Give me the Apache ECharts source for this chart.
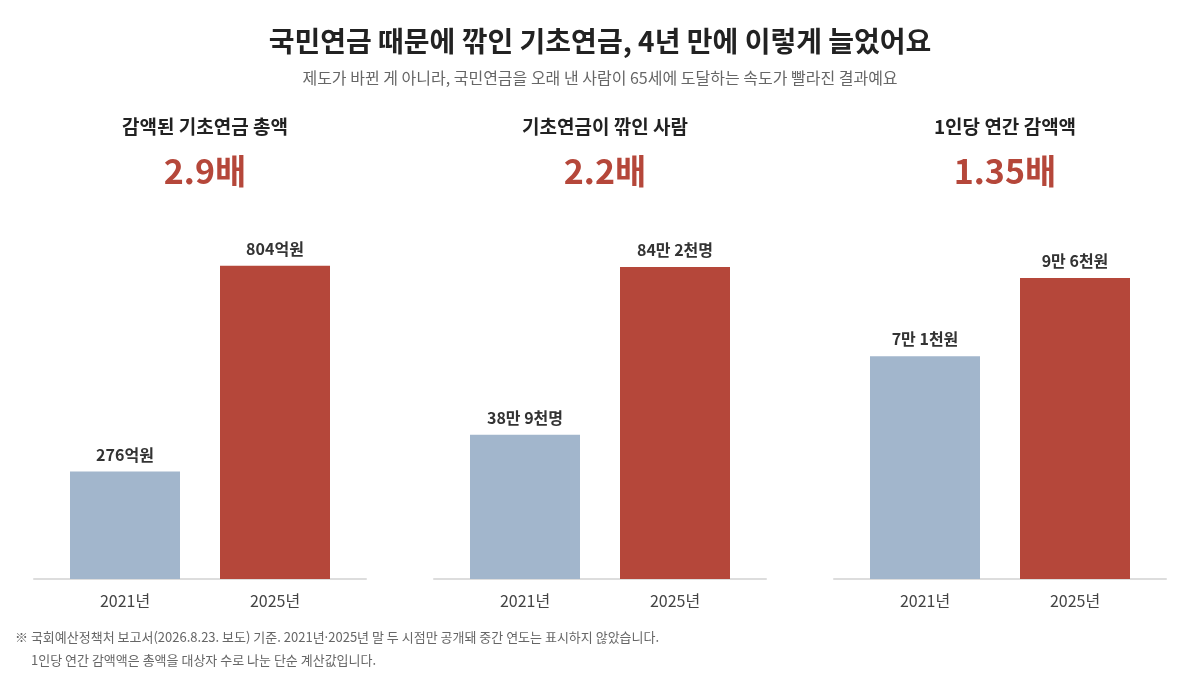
<!DOCTYPE html>
<html lang="ko">
<head>
  <meta charset="UTF-8">
  <title>기초연금 감액</title>
  <style>
    html, body { margin: 0; padding: 0; background: #fff; }
    #chart { width: 1200px; height: 680px; }
  </style>
</head>
<body>
<div id="chart"></div>
<script src="https://cdn.jsdelivr.net/npm/echarts@6/dist/echarts.min.js"></script>
<script>
  var FONT = '"Noto Sans CJK KR", "Noto Sans", sans-serif'

  var years = ['2021년', '2025년']
  var panelTitles = ['감액된 기초연금 총액', '기초연금이 깎인 사람', '1인당 연간 감액액']
  var ratios = ['2.9배', '2.2배', '1.35배']
  // 억원
  var totalCut = [276, 804]
  // 만명
  var peopleCut = [38.9, 84.2]
  // 만원
  var perPerson = [7.1, 9.6]

  var colors = ['#a2b6cc', '#b5473a']

  function manLabel(v, unit) {
    var man = Math.floor(v)
    var chun = Math.round((v - man) * 10)
    return man + '만 ' + chun + unit
  }

  var panels = [
    { data: totalCut, max: 860, fmt: function (v) { return v + '억원' } },
    { data: peopleCut, max: 90.4, fmt: function (v) { return manLabel(v, '천명') } },
    { data: perPerson, max: 10.68, fmt: function (v) { return manLabel(v, '천원') } }
  ]

  var grids = [], xAxes = [], yAxes = [], series = []
  var titles = [
    { text: '국민연금 때문에 깎인 기초연금, 4년 만에 이렇게 늘었어요', left: 'center', top: 22,
      textStyle: { fontFamily: FONT, fontSize: 28, fontWeight: 'bold', color: '#222' } },
    { text: '제도가 바뀐 게 아니라, 국민연금을 오래 낸 사람이 65세에 도달하는 속도가 빨라진 결과예요', left: 'center', top: 65,
      textStyle: { fontFamily: FONT, fontSize: 16, fontWeight: 'normal', color: '#666' } },
    { text: '※ 국회예산정책처 보고서(2026.8.23. 보도) 기준. 2021년·2025년 말 두 시점만 공개돼 중간 연도는 표시하지 않았습니다.', left: 10, top: 626,
      textStyle: { fontFamily: FONT, fontSize: 13, fontWeight: 'normal', color: '#666' } },
    { text: '1인당 연간 감액액은 총액을 대상자 수로 나눈 단순 계산값입니다.', left: 26, top: 649,
      textStyle: { fontFamily: FONT, fontSize: 13, fontWeight: 'normal', color: '#666' } }
  ]

  panels.forEach(function (p, i) {
    var ox = i * 400
    titles.push({ text: panelTitles[i], left: ox + 200, top: 112, textAlign: 'center',
      textStyle: { fontFamily: FONT, fontSize: 19, fontWeight: 'bold', color: '#222' } })
    titles.push({ text: ratios[i], left: ox + 200, top: 149, textAlign: 'center',
      textStyle: { fontFamily: FONT, fontSize: 34, fontWeight: 'bold', color: '#b5473a' } })

    // bar grid
    grids.push({ left: ox + 50, width: 300, top: 244, bottom: 101 })
    // baseline grid (wider than the bars)
    grids.push({ left: ox + 34, width: 332, top: 244, bottom: 101 })

    var g = grids.length - 2
    xAxes.push({
      type: 'category', gridIndex: g, data: years,
      axisLine: { show: false }, axisTick: { show: false },
      axisLabel: { fontFamily: FONT, fontSize: 16, color: '#444', margin: 14 }
    })
    yAxes.push({ type: 'value', gridIndex: g, min: 0, max: p.max, show: false, splitLine: { show: false } })

    xAxes.push({
      type: 'value', gridIndex: g + 1, min: 0, max: 1,
      axisLine: { show: true, lineStyle: { color: '#dddddd', width: 2 } },
      axisTick: { show: false }, axisLabel: { show: false }, splitLine: { show: false }
    })
    yAxes.push({ type: 'value', gridIndex: g + 1, show: false, splitLine: { show: false } })

    series.push({
      type: 'bar', xAxisIndex: g, yAxisIndex: g,
      barWidth: 110, z: 3,
      data: p.data.map(function (v, k) { return { value: v, itemStyle: { color: colors[k] } } }),
      label: {
        show: true, position: 'top', distance: 9,
        fontFamily: FONT, fontSize: 16, fontWeight: 'bold', color: '#333',
        formatter: function (params) { return p.fmt(params.value) }
      }
    })
  })

  var chart = echarts.init(document.getElementById('chart'), null, { renderer: 'canvas' })
  chart.setOption({
    backgroundColor: '#fff',
    animation: false,
    title: titles,
    grid: grids,
    xAxis: xAxes,
    yAxis: yAxes,
    series: series
  })
</script>
</body>
</html>
